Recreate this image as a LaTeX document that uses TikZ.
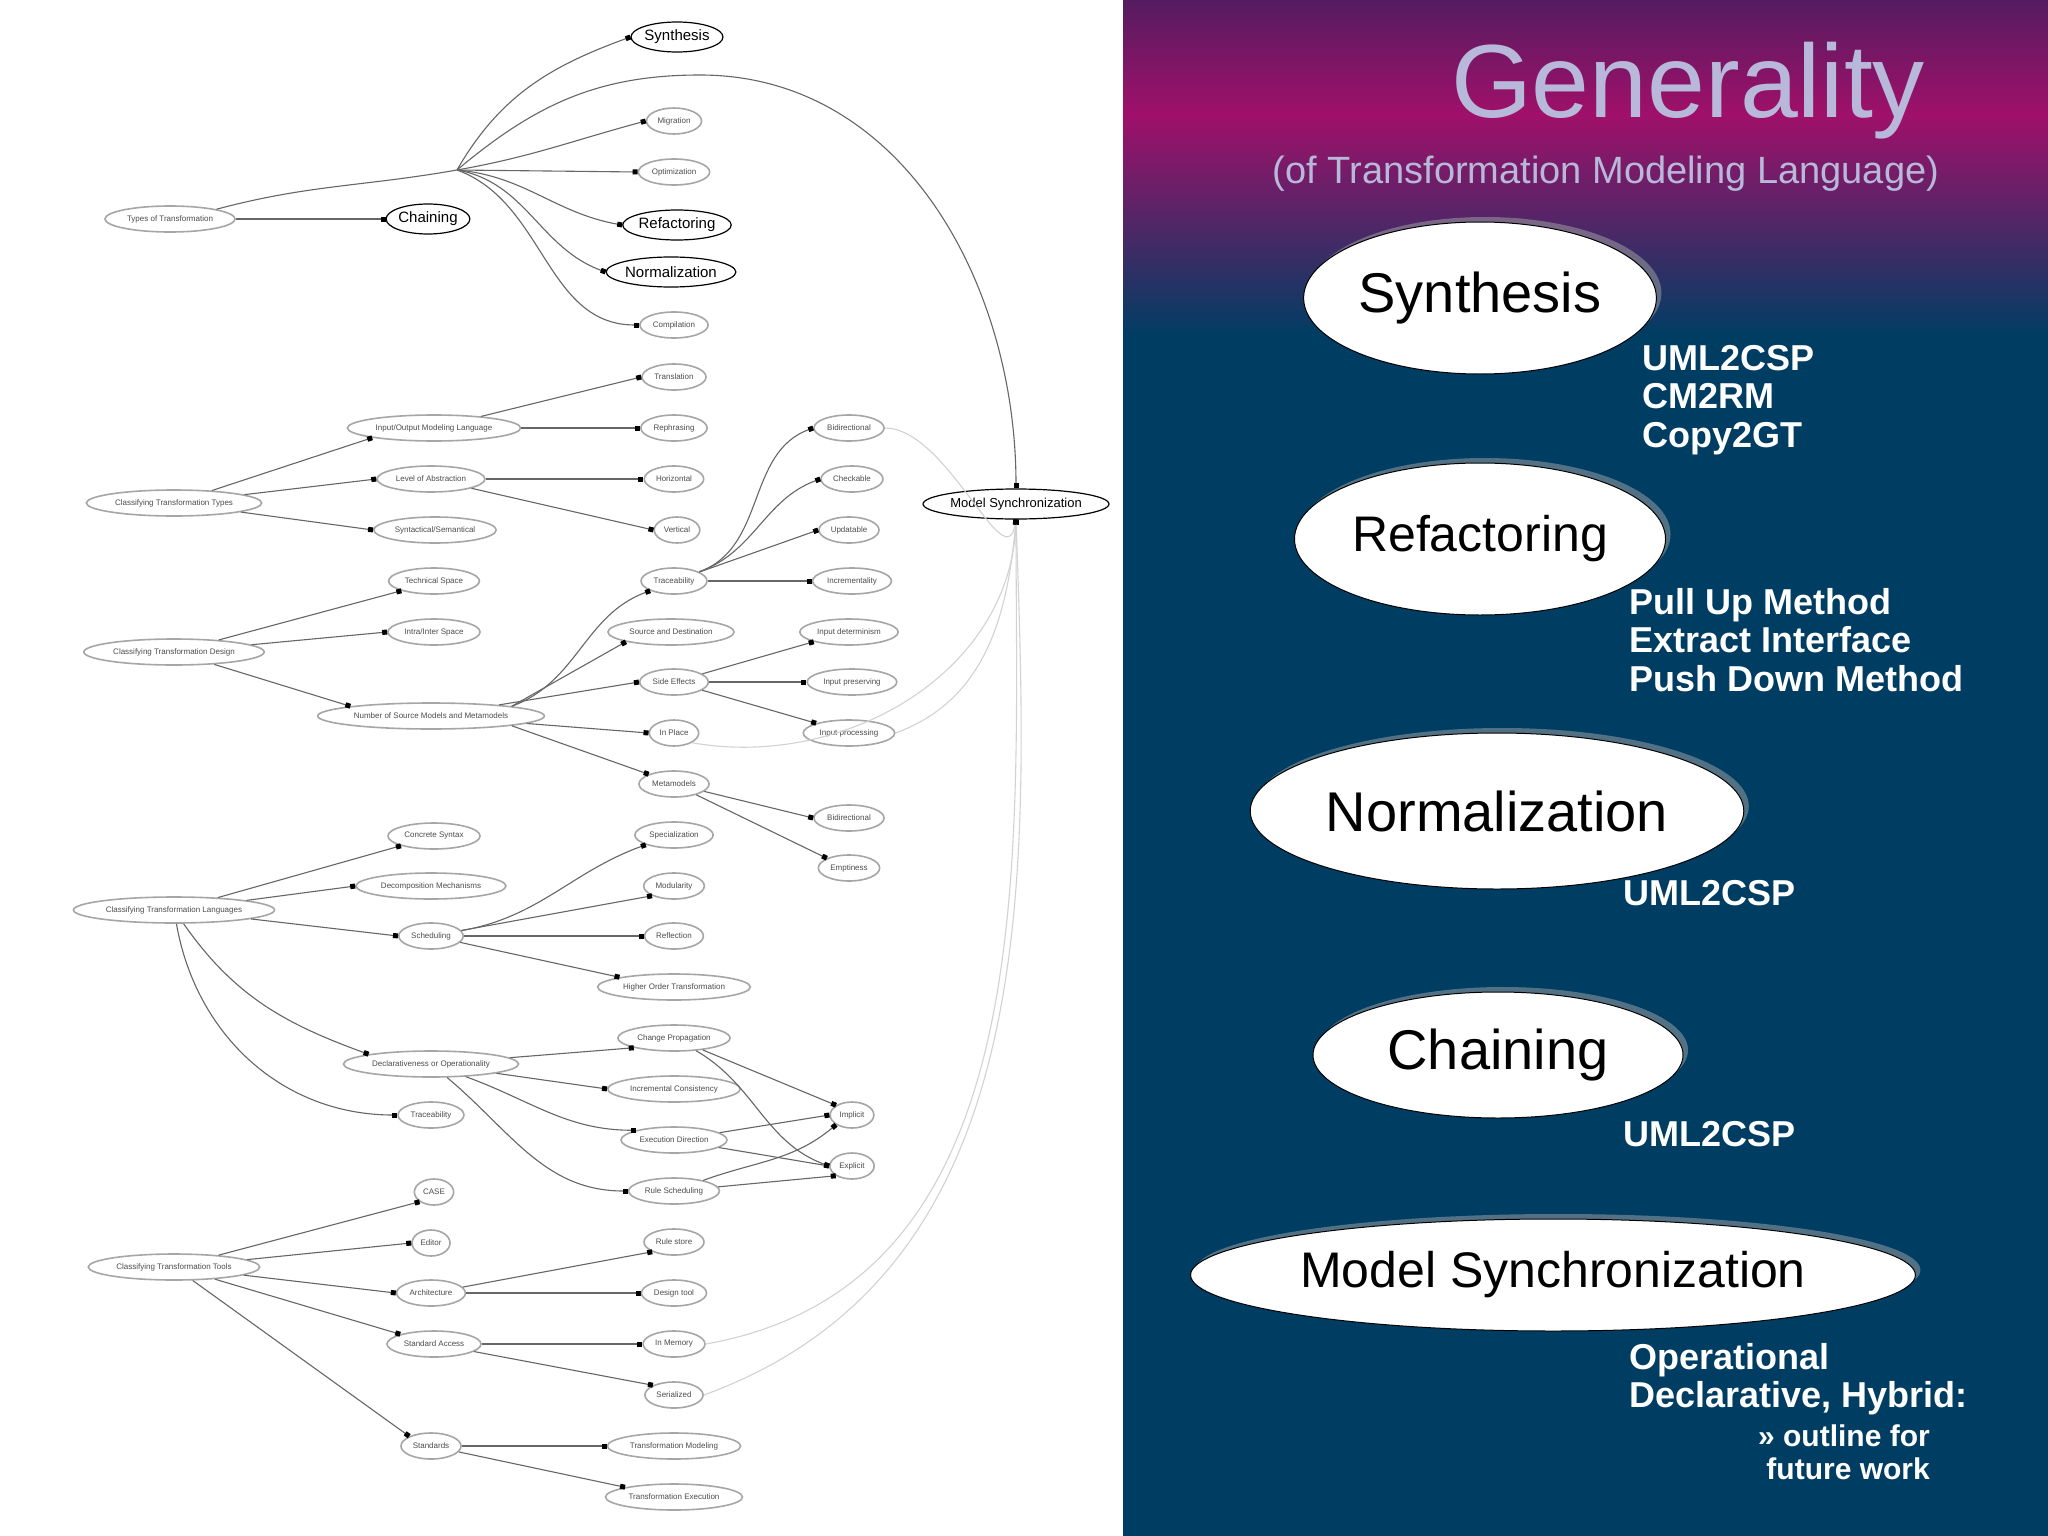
\documentclass[tikz,border=0pt]{standalone}
\usepackage{fontspec}
\setmainfont{Liberation Sans}
\usetikzlibrary{shapes.geometric,arrows.meta,shadows}
\definecolor{navy}{HTML}{003D63}
\definecolor{magen}{HTML}{A0106A}
\definecolor{purp}{HTML}{551C60}
\definecolor{lav}{HTML}{B8B8DA}
\begin{document}
\begin{tikzpicture}[x=1pt,y=-1pt,
  g/.style={ellipse,draw=gray!70,line width=1.6pt,inner xsep=3pt,inner ysep=1pt,minimum height=26pt,font=\fontsize{8}{9}\selectfont,text=gray!60!black},
  h/.style={ellipse,draw=black,line width=1.2pt,inner xsep=0pt,inner ysep=1pt,minimum height=30pt,font=\fontsize{15}{16}\selectfont},
  e/.style={draw=gray!80!black,line width=1.1pt,-{Square[length=5pt,width=5pt,black]}},
  l/.style={draw=gray!35,line width=1.1pt,-{Square[length=5pt,width=5pt,black]}},
  big/.style={ellipse,draw=black,fill=white,line width=1pt,drop shadow={shadow xshift=5pt,shadow yshift=5pt,fill=gray!70}},
  w/.style={text=white,font=\bfseries\fontsize{36}{38.5}\selectfont,anchor=north west,align=left,inner sep=0pt}]
\useasboundingbox (0,0) rectangle (2048,1536);
\fill[white] (0,0) rectangle (1123,1536);
% right panel
\fill[navy] (1123,0) rectangle (2048,1536);
\shade[top color=purp,bottom color=magen] (1123,0) rectangle (2048,115);
\shade[top color=magen,bottom color=navy] (1123,114) rectangle (2048,335);
\node[text=lav,font=\fontsize{104}{110}\selectfont] (title) at (1688,91) {Generality};
\node[text=lav,font=\fontsize{38}{42}\selectfont] (sub) at (1606,174) {(of Transformation Modeling Language)};
\node[big,minimum width=306,minimum height=152,font=\fontsize{56}{60}\selectfont] (S) at (1480,298) {Synthesis};
\node[w] (St) at (1642,345) {UML2CSP\\CM2RM\\Copy2GT};
\node[big,minimum width=306,minimum height=152,font=\fontsize{50}{54}\selectfont] (R) at (1480,539) {Refactoring};
\node[w] (Rt) at (1629,588) {Pull Up Method\\Extract Interface\\Push Down Method};
\node[big,minimum width=404,minimum height=156,font=\fontsize{56}{60}\selectfont] (N) at (1497,811) {Normalization};
\node[w] (Nt) at (1623,880) {UML2CSP};
\node[big,minimum width=370,minimum height=126,font=\fontsize{56}{60}\selectfont] (C) at (1498,1055) {Chaining};
\node[w] (Ct) at (1623,1121) {UML2CSP};
\node[big,minimum width=580,minimum height=112,font=\fontsize{50}{54}\selectfont] (M) at (1553,1275) {Model Synchronization};
\node[w] (Mt) at (1629,1343) {Operational\\Declarative, Hybrid:};
\node[w,font=\bfseries\fontsize{30}{33}\selectfont,align=right,anchor=north east] (Mf) at (1930,1425) {>> outline for\\future work};
% left graph
\node[g] (tot) at (170,219) {Types of Transformation};
\node[h] (syn) at (677,37) {Synthesis};
\node[g] (mig) at (674,121) {Migration};
\node[g] (opt) at (674,172) {Optimization};
\node[h] (ref) at (677,225) {Refactoring};
\node[h] (nor) at (671,272) {Normalization};
\node[g] (com) at (674,325) {Compilation};
\node[h] (cha) at (428,219) {Chaining};
\coordinate (hub) at (457,170);
\node[h,font=\fontsize{13}{14}\selectfont] (ms) at (1016,504) {Model Synchronization};
\node[g] (ctt) at (174,503) {Classifying Transformation Types};
\node[g] (iom) at (434,428) {Input/Output Modeling Language};
\node[g] (loa) at (431,479) {Level of Abstraction};
\node[g] (sys) at (435,530) {Syntactical/Semantical};
\node[g] (tra) at (674,377) {Translation};
\node[g] (rep) at (674,428) {Rephrasing};
\node[g] (hor) at (674,479) {Horizontal};
\node[g] (ver) at (677,530) {Vertical};
\node[g] (ctd) at (174,652) {Classifying Transformation Design};
\node[g] (tsp) at (434,581) {Technical Space};
\node[g] (iis) at (434,632) {Intra/Inter Space};
\node[g] (nsm) at (431,716) {Number of Source Models and Metamodels};
\node[g] (trc) at (674,581) {Traceability};
\node[g] (sad) at (671,632) {Source and Destination};
\node[g] (sef) at (674,682) {Side Effects};
\node[g] (inp) at (674,733) {In Place};
\node[g] (mmo) at (674,784) {Metamodels};
\node[g] (bid) at (849,428) {Bidirectional};
\node[g] (chk) at (852,479) {Checkable};
\node[g] (upd) at (849,530) {Updatable};
\node[g] (inc) at (852,581) {Incrementality};
\node[g] (ide) at (849,632) {Input determinism};
\node[g] (ipr) at (852,682) {Input preserving};
\node[g] (ipc) at (849,733) {Input processing};
\node[g] (bi2) at (849,818) {Bidirectional};
\node[g] (emp) at (849,868) {Emptiness};
\node[g] (ctl) at (174,910) {Classifying Transformation Languages};
\node[g] (csy) at (434,836) {Concrete Syntax};
\node[g] (dme) at (431,886) {Decomposition Mechanisms};
\node[g] (sch) at (431,936) {Scheduling};
\node[g] (spe) at (674,835) {Specialization};
\node[g] (mod) at (674,886) {Modularity};
\node[g] (rfl) at (674,936) {Reflection};
\node[g] (hot) at (674,987) {Higher Order Transformation};
\node[g] (doo) at (431,1064) {Declarativeness or Operationality};
\node[g] (cpr) at (674,1038) {Change Propagation};
\node[g] (ico) at (674,1089) {Incremental Consistency};
\node[g] (exd) at (674,1140) {Execution Direction};
\node[g] (rsc) at (674,1191) {Rule Scheduling};
\node[g] (imp) at (852,1115) {Implicit};
\node[g] (exp) at (852,1166) {Explicit};
\node[g] (tr2) at (431,1115) {Traceability};
\node[g] (ctx) at (174,1267) {Classifying Transformation Tools};
\node[g] (cas) at (434,1192) {CASE};
\node[g] (edi) at (431,1243) {Editor};
\node[g] (arc) at (431,1293) {Architecture};
\node[g] (sta) at (434,1344) {Standard Access};
\node[g] (std) at (431,1446) {Standards};
\node[g] (rst) at (674,1242) {Rule store};
\node[g] (dto) at (674,1293) {Design tool};
\node[g] (inm) at (674,1344) {In Memory};
\node[g] (ser) at (674,1395) {Serialized};
\node[g] (tmo) at (674,1446) {Transformation Modeling};
\node[g] (tex) at (674,1497) {Transformation Execution};
% edges
\draw[e] (tot.north east) to[out=15,in=190] (hub) to[out=60,in=200] (syn.west);
\draw[e] (hub) to[out=10,in=195] (mig.west);
\draw[e] (hub) -- (opt.west);
\draw[e] (hub) to[out=-5,in=170] (ref.west);
\draw[e] (hub) to[out=-10,in=160] (nor.west);
\draw[e] (hub) to[out=-20,in=180] (com.west);
\draw[e] (hub) to[out=40,in=180] (700,75) to[out=0,in=90] (ms.north);
\draw[e] (tot) -- (cha);
\draw[e] (ctt) -- (iom.south west);
\draw[e] (ctt) -- (loa.west);
\draw[e] (ctt) -- (sys.west);
\draw[e] (iom) -- (tra.west);
\draw[e] (iom) -- (rep);
\draw[e] (loa) -- (hor);
\draw[e] (loa) -- (ver.west);
\draw[e] (ctd) -- (tsp.south west);
\draw[e] (ctd) -- (iis.west);
\draw[e] (ctd) -- (nsm.north west);
\draw[e] (nsm.north east) to[out=20,in=200] (trc.south west);
\draw[e] (nsm.north east) -- (sad.south west);
\draw[e] (nsm) -- (sef.west);
\draw[e] (nsm) -- (inp.west);
\draw[e] (nsm.south east) -- (mmo.north west);
\draw[e] (trc) to[out=20,in=200] (bid.west);
\draw[e] (trc) to[out=20,in=200] (chk.west);
\draw[e] (trc) -- (upd.west);
\draw[e] (trc) -- (inc);
\draw[e] (sef) -- (ide.south west);
\draw[e] (sef) -- (ipr);
\draw[e] (sef) -- (ipc.north west);
\draw[e] (mmo) -- (bi2.west);
\draw[e] (mmo) -- (emp.north west);
\draw[e] (ctl) -- (csy.south west);
\draw[e] (ctl) -- (dme.west);
\draw[e] (ctl) -- (sch.west);
\draw[e] (ctl) to[out=-55,in=160] (doo.north west);
\draw[e] (ctl) to[out=-80,in=180] (tr2.west);
\draw[e] (sch) to[out=10,in=200] (spe.south west);
\draw[e] (sch) -- (mod.south west);
\draw[e] (sch) -- (rfl);
\draw[e] (sch) -- (hot.north west);
\draw[e] (doo) -- (cpr.south west);
\draw[e] (doo) -- (ico.west);
\draw[e] (doo) to[out=-20,in=180] (exd.north west);
\draw[e] (doo) to[out=-40,in=180] (rsc.west);
\draw[e] (cpr) -- (imp.north west);
\draw[e] (cpr) to[out=-30,in=160] (exp.west);
\draw[e] (exd) -- (imp.west);
\draw[e] (exd) -- (exp.west);
\draw[e] (rsc) to[out=20,in=220] (imp.south west);
\draw[e] (rsc) -- (exp.south west);
\draw[e] (ctx) -- (cas.south west);
\draw[e] (ctx) -- (edi.west);
\draw[e] (ctx) -- (arc.west);
\draw[e] (ctx) -- (sta.north west);
\draw[e] (ctx) -- (std.north west);
\draw[e] (arc) -- (rst.south west);
\draw[e] (arc) -- (dto);
\draw[e] (sta) -- (inm);
\draw[e] (sta) -- (ser.north west);
\draw[e] (std) -- (tmo);
\draw[e] (std) -- (tex.north west);
% light edges to Model Synchronization
\draw[l] (bid.east) to[out=0,in=260] (ms.south);
\draw[l] (ipc.east) to[out=20,in=265] (ms.south);
\draw[l] (inp.south east) to[out=-10,in=268] (ms.south);
\draw[l] (inm.east) to[out=10,in=270] (ms.south);
\draw[l] (ser.east) to[out=20,in=272] (ms.south);
\end{tikzpicture}
\end{document}
